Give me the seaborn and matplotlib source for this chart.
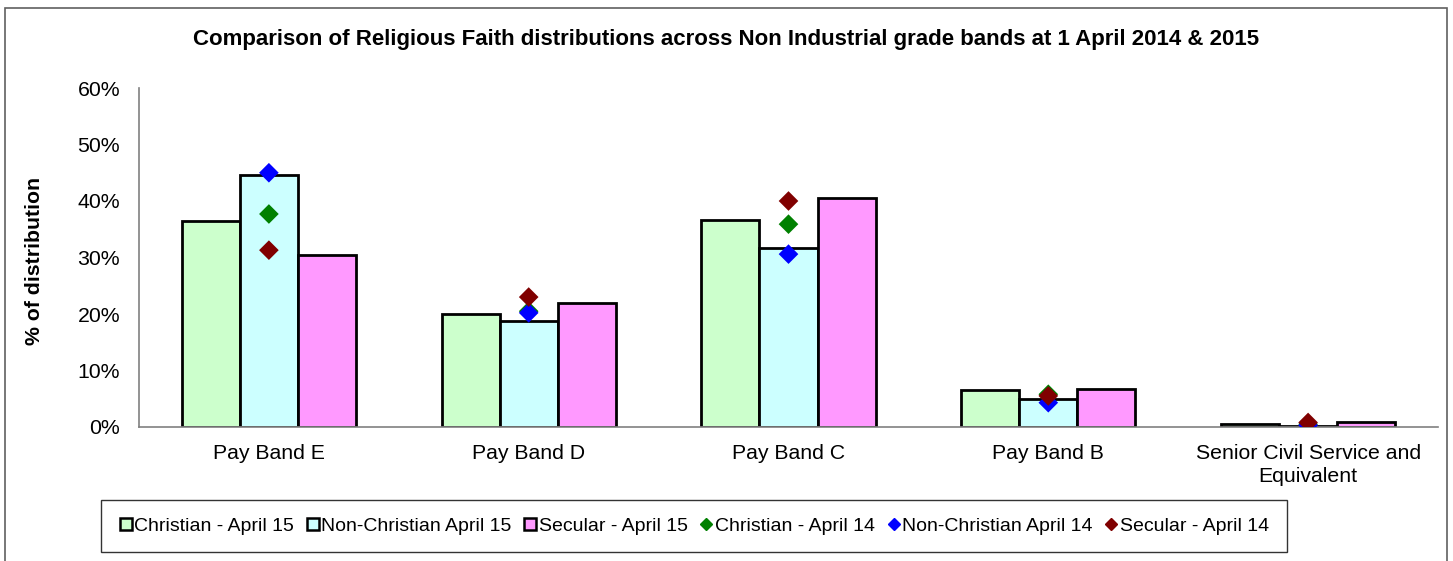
import matplotlib
matplotlib.use("Agg")
import matplotlib.pyplot as plt
import seaborn as sns
import pandas as pd
from matplotlib.lines import Line2D
from matplotlib.patches import Rectangle

bands = ["Pay Band E", "Pay Band D", "Pay Band C", "Pay Band B",
         "Senior Civil Service and\nEquivalent"]
christian_15 = [36.5, 20.0, 36.6, 6.5, 0.5]
non_christian_15 = [44.6, 18.8, 31.7, 5.0, 0.2]
secular_15 = [30.4, 21.9, 40.5, 6.7, 0.8]
christian_14 = [37.7, 20.5, 35.9, 5.8, 0.5]
non_christian_14 = [45.0, 20.2, 30.6, 4.3, 0.3]
secular_14 = [31.3, 23.0, 40.0, 5.5, 0.8]

bar_series = ["Christian - April 15", "Non-Christian April 15", "Secular - April 15"]
pt_series = ["Christian - April 14", "Non-Christian April 14", "Secular - April 14"]
bar_colors = ["#CCFFCC", "#CCFFFF", "#FF99FF"]
pt_colors = ["#008000", "#0000FF", "#800000"]

bar_df = pd.DataFrame({
    "band": bands * 3,
    "series": [s for s in bar_series for _ in bands],
    "value": christian_15 + non_christian_15 + secular_15,
})
pt_df = pd.DataFrame({
    "band": bands * 3,
    "series": [s for s in pt_series for _ in bands],
    "value": christian_14 + non_christian_14 + secular_14,
})

sns.set_style("white")
plt.rcParams["font.family"] = ["Liberation Sans", "DejaVu Sans"]
plt.rcParams["text.color"] = "black"
plt.rcParams["axes.labelcolor"] = "black"
plt.rcParams["xtick.color"] = "black"
plt.rcParams["ytick.color"] = "black"

fig = plt.figure(figsize=(14.53, 5.61), dpi=100)
ax = fig.add_axes([139 / 1453, 1 - 427 / 561, (1438 - 139) / 1453, (427 - 88) / 561])

sns.barplot(data=bar_df, x="band", y="value", hue="series", order=bands,
            hue_order=bar_series, palette=bar_colors, width=0.67,
            edgecolor="black", linewidth=2, ax=ax, legend=False, saturation=1)
sns.stripplot(data=pt_df, x="band", y="value", hue="series", order=bands,
              hue_order=pt_series, palette=pt_colors, jitter=False, dodge=False,
              marker="D", size=10, linewidth=0, ax=ax, legend=False)

ax.set_xlim(-0.5, len(bands) - 0.5)
ax.set_ylim(0, 60)
ax.set_yticks(range(0, 61, 10))
ax.set_yticklabels([f"{v}%" for v in range(0, 61, 10)], fontsize=15.3)
ax.set_xticks(range(len(bands)))
ax.set_xticklabels(bands, fontsize=15.3, linespacing=1.3)
ax.set_xticks([i - 0.5 for i in range(len(bands) + 1)], minor=True)
ax.tick_params(axis="x", which="major", length=0, pad=12)
ax.tick_params(axis="x", which="minor", length=4.5, color="#808080", width=1, direction="out")
ax.tick_params(axis="y", length=4.5, color="#808080", width=1, direction="out", pad=9, labelcolor="black")
ax.set_xlabel("")
ax.set_ylabel("% of distribution", fontsize=15.3, fontweight="bold")
ax.yaxis.set_label_coords((44 - 139) / 1299, 0.49)
for side in ["top", "right"]:
    ax.spines[side].set_visible(False)
for side in ["left", "bottom"]:
    ax.spines[side].set_color("#808080")
    ax.spines[side].set_linewidth(1.2)

fig.text(0.5, 1 - 40 / 561, "Comparison of Religious Faith distributions across Non Industrial grade bands at 1 April 2014 & 2015",
         ha="center", va="center", fontsize=16, fontweight="bold")

handles = [Line2D([], [], marker="s", linestyle="", markerfacecolor=c,
                  markeredgecolor="black", markeredgewidth=1.8, markersize=8)
           for c in bar_colors]
handles += [Line2D([], [], marker="D", linestyle="", markerfacecolor=c,
                   markeredgecolor=c, markersize=6) for c in pt_colors]
leg = fig.legend(handles, bar_series + pt_series, loc="center",
                 bbox_to_anchor=(694 / 1453, 1 - 526 / 561), ncol=6,
                 fontsize=14, frameon=True, fancybox=False, handlelength=0.7,
                 handletextpad=0.1, columnspacing=0.6, borderpad=0.9)
leg.get_frame().set_edgecolor("black")
leg.get_frame().set_linewidth(1.0)

fig.patches.append(Rectangle((5 / 1453, -0.05), (1447 - 5) / 1453, 1.05 - 8 / 561,
                             transform=fig.transFigure, fill=False,
                             edgecolor="#606060", linewidth=1.2))

fig.savefig("out.png", dpi=100)
